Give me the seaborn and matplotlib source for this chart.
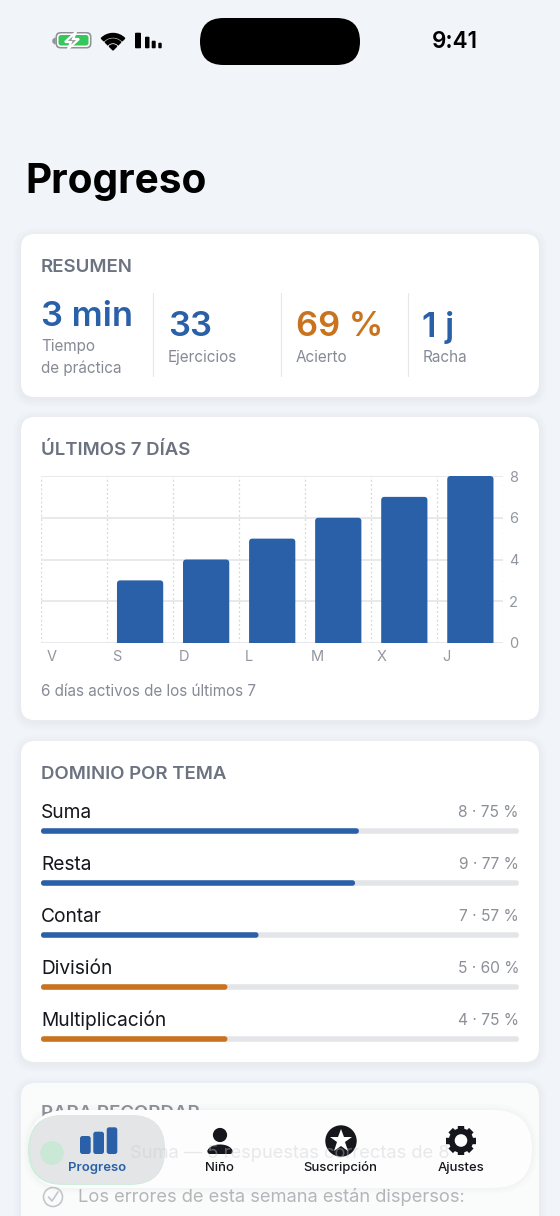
#!/usr/bin/env python3
import matplotlib
matplotlib.use("Agg")
import matplotlib.pyplot as plt
import numpy as np
import pandas as pd
import seaborn as sns
from matplotlib.patches import Circle, FancyBboxPatch, Polygon, Wedge

W, H = 560, 1216
BLUE = "#2a60a8"
ORANGE = "#c9731f"
GREY = "#6b7280"
LIGHT = "#858a94"
INK = "#15171c"
BG = "#f1f5f9"

# summary card
stat_values = ["3 min", "33", "69 %", "1 j"]
stat_labels = ["Tiempo\nde práctica", "Ejercicios", "Acierto", "Racha"]
stat_colors = [BLUE, BLUE, ORANGE, BLUE]

# last 7 days
days = ["V", "S", "D", "L", "M", "X", "J"]
day_counts = [0, 3, 4, 5, 6, 7, 8]
count_ticks = [0, 2, 4, 6, 8]

# topics
topics = ["Suma", "Resta", "Contar", "División", "Multiplicación"]
topic_fill = [66.5, 65.7, 45.5, 39, 39]
topic_notes = ["8 · 75 %", "9 · 77 %", "7 · 57 %", "5 · 60 %", "4 · 75 %"]
topic_group = ["ok", "ok", "ok", "low", "low"]

tabs = ["Progreso", "Niño", "Suscripción", "Ajustes"]

sns.set_theme(style="white")
plt.rcParams["font.family"] = ["Inter", "DejaVu Sans"]

fig = plt.figure(figsize=(W / 100, H / 100), dpi=100, facecolor=BG)
bg = fig.add_axes([0, 0, 1, 1], zorder=0)
bg.set_xlim(0, W)
bg.set_ylim(H, 0)
bg.axis("off")


def px_axes(x0, y0, x1, y1, zorder=2):
    ax = fig.add_axes([x0 / W, 1 - y1 / H, (x1 - x0) / W, (y1 - y0) / H], zorder=zorder)
    ax.patch.set_alpha(0)
    return ax


def rrect(ax, x0, y0, x1, y1, r, **kw):
    p = FancyBboxPatch((x0 + r, y0 + r), x1 - x0 - 2 * r, y1 - y0 - 2 * r,
                       boxstyle=f"round,pad={r},rounding_size={r}", linewidth=0, **kw)
    ax.add_patch(p)
    return p


def card(x0, y0, x1, y1, color="white"):
    # soft shadow, then the card itself
    for grow, alpha in [(8, 0.008), (6, 0.01), (4, 0.012), (2, 0.014)]:
        rrect(bg, x0 - grow, y0 - grow + 2, x1 + grow, y1 + grow + 2, 14 + grow, color="#475569", alpha=alpha)
    rrect(bg, x0, y0, x1, y1, 14, color=color)


# status bar
rrect(bg, 200, 18, 360, 65, 23.5, color="black")
bg.text(454.5, 42, "9:41", fontsize=16.2, fontweight="semibold", color="black", ha="center", va="center")
bg.add_patch(Polygon([(55, 38), (53, 40), (53, 42), (55, 44)], color="#8f9296"))
rrect(bg, 55.5, 32, 91.5, 48.5, 5, color="#8f9296")
rrect(bg, 57, 33.5, 90, 47, 4, color="white")
rrect(bg, 58.5, 35, 88.5, 45.5, 2.5, color="#35c759")
bolt = np.array([(76, 32), (65, 42), (71, 42), (68, 49), (79, 39), (73, 39)])
bg.add_patch(Polygon(bolt, fc="#8f9296", ec="white", lw=1.6, zorder=3))
bg.add_patch(Wedge((113, 50), 16.5, 225, 315, width=3.6, color="black"))
bg.add_patch(Wedge((113, 50), 11, 225, 315, width=3.6, color="black"))
bg.add_patch(Wedge((113, 50), 5.2, 225, 315, color="black"))
for x0, x1, top in [(135, 141, 32.7), (145, 149.5, 36.7), (151.7, 155.7, 40.7), (158.3, 161.7, 42.7)]:
    rrect(bg, x0, top, x1, 48.3, 1, color="black")

bg.text(25, 182, "Progreso", fontsize=29.2, fontweight="bold", color="black", ha="left", va="center")

card(21, 234, 539, 397)
card(21, 417, 539, 720)
card(21, 741, 539, 1062)
card(21, 1083, 539, 1230, color="#fafbfb")

# summary
bg.text(41, 267.5, "RESUMEN", fontsize=13.4, fontweight="semibold", color=GREY, va="center")
stat_x = [41, 168, 296, 422.5]
for i, (val, lab, col) in enumerate(zip(stat_values, stat_labels, stat_colors)):
    bg.text(stat_x[i], 317 if i == 0 else 327, val, fontsize=24.8, fontweight="semibold", color=col, va="center")
    bg.text(stat_x[i], 357.5, lab, fontsize=11, color=LIGHT, va="center", linespacing=1.55)
for x in [152.5, 280.5, 407.5]:
    bg.plot([x, x], [293, 376], color="#e6e8ec", lw=0.9)

# last 7 days
bg.text(41, 450.5, "ÚLTIMOS 7 DÍAS", fontsize=13.4, fontweight="semibold", color=GREY, va="center")
bg.text(41, 692, "6 días activos de los últimos 7", fontsize=11, color=LIGHT, va="center")

chart = px_axes(41, 476, 503.4, 643)
week = pd.DataFrame({"day": days, "count": day_counts})
sns.barplot(data=week, x="day", y="count", color=BLUE, saturation=1, width=0.7, ax=chart)
chart.set_xlim(-0.5, 6.5)
chart.set_ylim(0, 8)
chart.set(xlabel=None, ylabel=None)
chart.set_yticks(count_ticks)
chart.yaxis.tick_right()
chart.set_xticks(np.arange(len(days)) - 0.42, days, ha="left")
chart.set_xticks(np.arange(len(days) + 1) - 0.5, minor=True)
chart.tick_params(axis="both", which="both", length=0, labelsize=10.5, labelcolor="#92969e")
chart.tick_params(axis="x", pad=5)
chart.tick_params(axis="y", pad=4)
chart.grid(axis="y", which="major", color="#e8e9ec", lw=1.4)
chart.grid(axis="x", which="minor", color="#d6d7da", lw=0.9, ls=(0, (1.5, 2)))
chart.set_axisbelow(True)
sns.despine(ax=chart, left=True, right=True, top=True, bottom=True)
# swap the square bars for ones with rounded top corners
for bar in list(chart.patches):
    x, w, h = bar.get_x(), bar.get_width(), bar.get_height()
    bar.remove()
    if h > 0:
        rs = 0.05
        chart.add_patch(FancyBboxPatch((x + rs, -0.5), w - 2 * rs, h + 0.5 - rs * 3.16,
                                       boxstyle=f"round,pad={rs},rounding_size={rs}",
                                       mutation_aspect=3.16, color=BLUE, lw=0, zorder=3))

# topics
topic_ax = px_axes(41, 805, 519, 1065)
topic_df = pd.DataFrame({"topic": topics, "fill": topic_fill, "group": topic_group, "track": 100})
sns.barplot(data=topic_df, y="topic", x="track", color="#e4e5e8", saturation=1, width=0.106, ax=topic_ax)
sns.barplot(data=topic_df, y="topic", x="fill", hue="group", palette={"ok": BLUE, "low": ORANGE},
            saturation=1, width=0.106, dodge=False, legend=False, ax=topic_ax)
topic_ax.set_xlim(0, 100)
topic_ax.set_ylim(len(topics) - 0.5, -0.5)
topic_ax.axis("off")
for bar in list(topic_ax.patches):
    x, y, w, h = bar.get_x(), bar.get_y(), bar.get_width(), bar.get_height()
    col = bar.get_facecolor()
    z = bar.get_zorder()
    bar.remove()
    if w > 0 and h > 0:
        topic_ax.add_patch(FancyBboxPatch((x, y), w, h, boxstyle="round,pad=0,rounding_size=0.56",
                                          mutation_aspect=0.092, color=col, lw=0, zorder=z))
for i, (name, note) in enumerate(zip(topics, topic_notes)):
    topic_ax.text(0, i - 0.355, name, fontsize=13.8, color=INK, va="center", ha="left")
    topic_ax.text(100, i - 0.355, note, fontsize=11.2, color="#8b8f97", va="center", ha="right")
bg.text(41, 774.5, "DOMINIO POR TEMA", fontsize=13.4, fontweight="semibold", color=GREY, va="center")

# card under the tab bar
bg.text(41, 1114, "PARA RECORDAR", fontsize=13.4, fontweight="semibold", color="#8d9199", va="center")
bg.add_patch(Circle((53, 1197), 9.5, fill=False, ec="#c4c6ca", lw=1.2))
bg.plot([48.5, 52, 58], [1197, 1201, 1192], color="#c4c6ca", lw=1.2)
bg.text(78.5, 1197.5, "Los errores de esta semana están dispersos:", fontsize=13.25, color="#b4b6ba", va="center")

# floating tab bar
ui = px_axes(0, 0, W, H, zorder=4)
ui.set_xlim(0, W)
ui.set_ylim(H, 0)
ui.axis("off")
for grow, alpha in [(6, 0.006), (4, 0.008), (2, 0.01)]:
    rrect(ui, 28 - grow, 1110 - grow, 532 + grow, 1188 + grow, 39 + grow, color="#475569", alpha=alpha)
rrect(ui, 28, 1110, 532, 1188, 39, color="#fdfdfe")
rrect(ui, 28, 1115, 165, 1185, 35, color="#cdeedb")
rrect(ui, 30, 1115, 165, 1184, 34, color="#e3e5e6")
ui.add_patch(Circle((52, 1153), 11, color="#c9e8d5"))
ui.text(130, 1153.5, "Suma — 5 respuestas correctas de 8", fontsize=13.25, color="#c8cacd",
        va="center", alpha=0.4)

tab_x = [97.5, 219.5, 340, 461.5]
tab_colors = [BLUE, INK, INK, INK]
for x, name, col in zip(tab_x, tabs, tab_colors):
    ui.text(x, 1168, name, fontsize=9.4, fontweight="semibold" if name == "Progreso" else "medium",
            color=col, ha="center", va="center")
for x0, x1, top in [(80, 90.7, 1136), (93.3, 104, 1131.7), (106.7, 117.3, 1127.3)]:
    rrect(ui, x0, top, x1, 1154, 2.5, color=BLUE)
# person icon
ui.add_patch(Circle((220, 1135), 6.4, color=INK))
angles = np.linspace(np.pi, 2 * np.pi, 40)
body = np.column_stack([220 + 12.5 * np.cos(angles), 1151.5 + 7 * np.sin(angles)])
rrect(ui, 207.5, 1149, 232.5, 1154, 2.4, color=INK)
ui.add_patch(Polygon(body, color=INK, lw=0))
# star icon
ui.add_patch(Circle((341, 1141), 15, color=INK))
ui.plot([341], [1140.5], marker="*", ms=17, color="white", mew=0)
# gear icon
for a in np.arange(8) * np.pi / 4:
    ui.plot([461 + 9 * np.cos(a), 461 + 14.6 * np.cos(a)], [1140.5 + 9 * np.sin(a), 1140.5 + 14.6 * np.sin(a)],
            color=INK, lw=4.6, solid_capstyle="butt")
ui.add_patch(Circle((461, 1140.5), 11.5, color=INK))
ui.add_patch(Circle((461, 1140.5), 5.6, color="white"))

fig.savefig("out.png", dpi=100, facecolor=BG)
